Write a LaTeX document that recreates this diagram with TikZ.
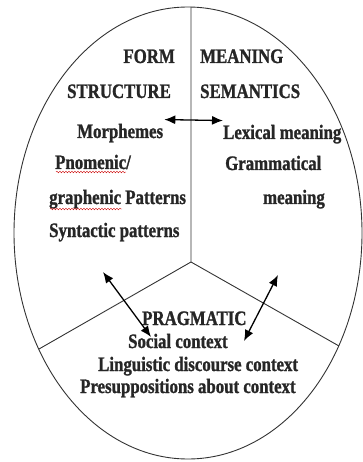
\documentclass[tikz,border=0pt]{standalone}
\usepackage{fontspec}
\newfontfamily\labelfont[FakeStretch=0.82,FakeBold=1.2]{Liberation Serif Bold}
\usetikzlibrary{arrows.meta,calc,positioning,decorations.pathmorphing}

\begin{document}
\begin{tikzpicture}[x=1pt, y=-1pt,
    lbl/.style={font=\labelfont\fontsize{20.5}{21}\selectfont, inner sep=0pt, text=black!85},
    link/.style={{Latex[length=11pt,width=9pt]}-{Latex[length=11pt,width=9pt]}, line width=1.3pt},
    spell/.style={red!80!black, thin, decorate, decoration={snake, amplitude=0.8pt, segment length=3pt}}]
    \useasboundingbox (0,0) rectangle (363,462);

    % Draw the outer ellipse and the three sectors
    \draw[line width=0.9pt, black!80] (188,233) ellipse [x radius=174, y radius=226];
    \coordinate (hub) at (191,262);
    \coordinate (rimtop) at (191,7);
    \coordinate (rimleft) at (39,349);
    \coordinate (rimright) at (339,346);
    \draw[line width=0.9pt, black!80] (rimtop) -- (hub) -- (rimleft);
    \draw[line width=0.9pt, black!80] (hub) -- (rimright);

    % Form / structure sector
    \node[lbl, anchor=base east] (form) at (175,63) {FORM};
    \node[lbl, anchor=base west] (structure) at (67,98) {STRUCTURE};
    \node[lbl, anchor=base west] (morph) at (77,138) {Morphemes};
    \node[lbl, anchor=base west] (pnomenic) at (55,169) {Pnomenic/};
    \node[lbl, anchor=base west] (graphenic) at (49,204) {graphenic Patterns};
    \node[lbl, anchor=base west] (syntactic) at (49,237) {Syntactic patterns};

    % Meaning / semantics sector
    \node[lbl, anchor=base west] (meaning) at (200,63) {MEANING};
    \node[lbl, anchor=base west] (semantics) at (200,98) {SEMANTICS};
    \node[lbl, anchor=base west] (lexical) at (223,139) {Lexical meaning};
    \node[lbl, anchor=base west] (grammatical) at (225,170) {Grammatical};
    \node[lbl, anchor=base east] (gmeaning) at (325,204) {meaning};

    % Pragmatic sector
    \node[lbl, anchor=base west] (pragmatic) at (142,325) {PRAGMATIC};
    \node[lbl, anchor=base west] (social) at (128,348) {Social context};
    \node[lbl, anchor=base west] (discourse) at (98,371) {Linguistic discourse context};
    \node[lbl, anchor=base west] (presup) at (80,393) {Presuppositions about context};

    % Spelling marks
    \draw[spell] ($(pnomenic.base west)+(1,3)$) -- ($(pnomenic.base east)+(-5,3)$);
    \draw[spell] ($(graphenic.base west)+(1,5)$) -- ++(72,0);

    % Arrows between the sectors
    \coordinate (formend) at (103,272);
    \coordinate (socialend) at (151,337);
    \coordinate (semend) at (278,275);
    \coordinate (pragend) at (244,341);
    \draw[link] ($(morph.north east)+(1,-4)$) -- ($(lexical.north west)+(0,-4)$);
    \draw[link] (formend) -- (socialend);
    \draw[link] (semend) -- (pragend);
\end{tikzpicture}
\end{document}
